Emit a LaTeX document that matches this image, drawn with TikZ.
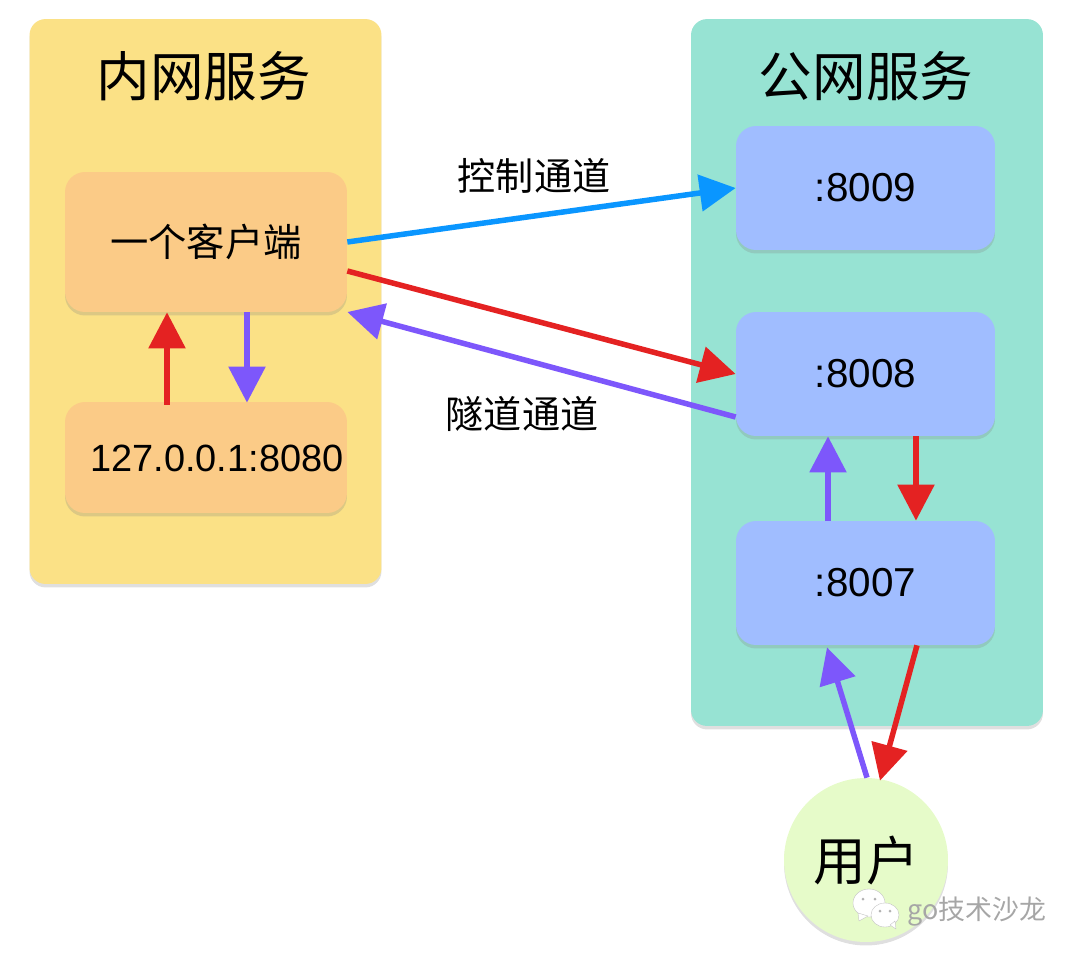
\documentclass[tikz,border=0pt]{standalone}
\usepackage{fontspec}
\setmainfont{Liberation Sans}
\newfontfamily\cjk{Noto Sans CJK SC}
\usetikzlibrary{arrows.meta}
\usetikzlibrary{shadows}
\definecolor{innerbg}{HTML}{FBE186}
\definecolor{publicbg}{HTML}{97E3D3}
\definecolor{clientbg}{HTML}{FBCB87}
\definecolor{portbg}{HTML}{A0BDFF}
\definecolor{userbg}{HTML}{E6FBC9}
\definecolor{ctrlblue}{HTML}{0A96FF}
\definecolor{tunred}{HTML}{E42222}
\definecolor{tunpurple}{HTML}{7D57FB}
\tikzset{
	softshadow/.style={drop shadow={shadow xshift=0cm,shadow yshift=-0.07cm,opacity=0.25}},
	zone/.style={rounded corners=0.32cm,softshadow,minimum width=7.04cm},
	clientbox/.style={fill=clientbg,rounded corners=0.4cm,softshadow,minimum width=5.64cm},
	portbox/.style={fill=portbg,rounded corners=0.4cm,softshadow,minimum width=5.18cm,minimum height=2.48cm,font=\fontsize{23}{26}\selectfont},
	title/.style={font=\fontsize{30.5}{34}\selectfont\cjk},
	chanlabel/.style={font=\fontsize{21.7}{24}\selectfont\cjk},
	link/.style={line width=0.11cm,-{Triangle[length=0.72cm,width=0.72cm]}}
}
\begin{document}
\begin{tikzpicture}[line cap=butt,line join=round,x=0.02cm,y=-0.02cm]
		\useasboundingbox (0,0) rectangle (1080,961);
		\node [zone,fill=innerbg,minimum height=11.3cm] (inner) at (205.5,301.5) {};
		\node [zone,fill=publicbg,minimum height=14.14cm] (public) at (867,372.5) {};
		\node [title] (innertitle) at (204,76) {内网服务};
		\node [title] (publictitle) at (866,76) {公网服务};
		\node [clientbox,minimum height=2.8cm,font=\fontsize{21.8}{24}\selectfont\cjk] (client) at (206,242) {一个客户端};
		\node [clientbox,minimum height=2.22cm] (local) at (206,457.5) {};
		\node [font=\fontsize{21.6}{24}\selectfont] (localtext) at (217,458) {127.0.0.1:8080};
		\node [portbox] (port9) at (865.5,188) {:8009};
		\node [portbox] (port8) at (865.5,374) {:8008};
		\node [portbox] (port7) at (865.5,583) {:8007};
		\node [circle,fill=userbg,softshadow,minimum size=3.28cm,inner sep=0pt,font=\fontsize{30}{34}\selectfont\cjk] (user) at (866,860) {用户};
		\node [chanlabel] (ctrllabel) at (534,176) {控制通道};
		\node [chanlabel] (tunlabel) at (522,414) {隧道通道};
		% channels between the two zones
		\draw [link,ctrlblue] (client.east) -- (port9.west);
		\draw [link,tunred] ([yshift=-0.58cm]client.east) -- (port8.west);
		\draw [link,tunpurple] ([yshift=-0.86cm]port8.west) -- ([yshift=-1.4cm]client.east);
		% inside the zones
		\draw [link,tunred] ([xshift=-0.78cm,yshift=-0.06cm]local.north) -- ([xshift=-0.78cm]client.south);
		\draw [link,tunpurple] ([xshift=0.82cm]client.south) -- ([xshift=0.82cm,yshift=-0.02cm]local.north);
		\draw [link,tunpurple] ([xshift=-0.75cm]port7.north) -- ([xshift=-0.75cm]port8.south);
		\draw [link,tunred] ([xshift=1.01cm]port8.south) -- ([xshift=1.01cm]port7.north);
		% user
		\draw [link,tunpurple] ([xshift=0.02cm]user.north) -- ([xshift=-0.77cm,yshift=-0.04cm]port7.south);
		\draw [link,tunred] ([xshift=1.03cm]port7.south) -- ([xshift=0.28cm,yshift=-0.06cm]user.north);
		% watermark
		\fill [white,draw=black!25,line width=0.2pt] (869,903) ellipse (16 and 14);
		\fill [white,draw=black!25,line width=0.2pt] (858,913) -- (859,921) -- (868,916) -- cycle;
		\fill [white,draw=black!25,line width=0.2pt] (885,915) ellipse (14 and 12);
		\fill [white,draw=black!25,line width=0.2pt] (890,925) -- (896,929) -- (895,921) -- cycle;
		\fill [black!30] (863,899) circle (1.5) (875,899) circle (1.5) (880,911) circle (1.5) (890,911) circle (1.5);
		\node [font=\fontsize{15.3}{18}\selectfont\cjk,text=black!35,anchor=west,inner sep=0pt] (mark) at (907,912) {go技术沙龙};
\end{tikzpicture}
\end{document}
